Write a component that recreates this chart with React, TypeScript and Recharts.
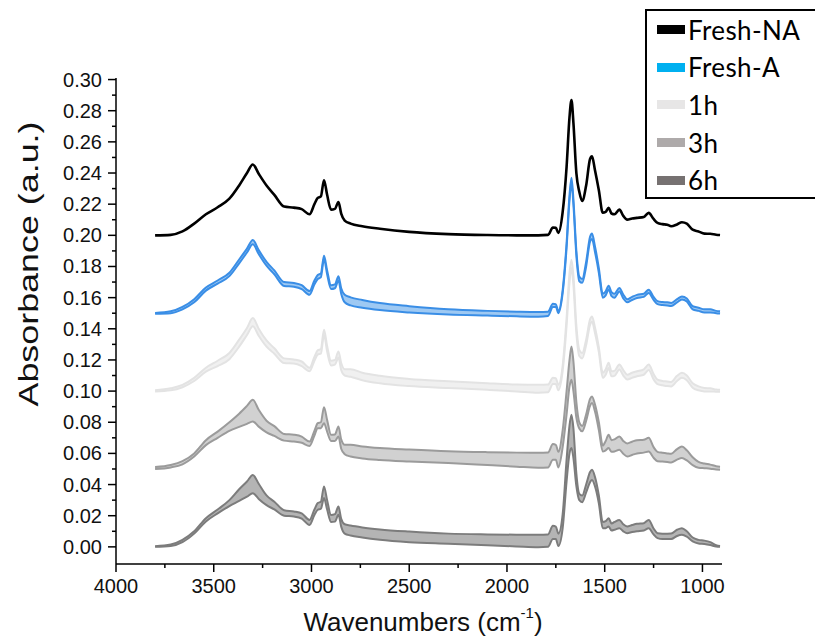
import React from 'react';
import { ComposedChart, Line, Area, XAxis, YAxis } from 'recharts';

// Wavenumber grid (cm-1), high to low
const WAVENUMBERS = [3800, 3720, 3660, 3600, 3540, 3480, 3420, 3370, 3330, 3300, 3270, 3230, 3190, 3140, 3090, 3050, 3010, 2985, 2968, 2952, 2936, 2920, 2900, 2880, 2862, 2848, 2830, 2800, 2740, 2650, 2500, 2300, 2100, 1950, 1840, 1790, 1765, 1750, 1737, 1715, 1695, 1680, 1670, 1660, 1645, 1630, 1615, 1595, 1575, 1565, 1550, 1530, 1510, 1495, 1480, 1465, 1450, 1425, 1405, 1385, 1360, 1335, 1300, 1275, 1250, 1230, 1205, 1180, 1160, 1130, 1105, 1080, 1050, 1020, 990, 960, 930, 910];

// Fresh-NA (single spectrum, offset +0.20)
const FRESH_NA = [0.2000, 0.2003, 0.2025, 0.2075, 0.2135, 0.2180, 0.2235, 0.2320, 0.2400, 0.2455, 0.2395, 0.2320, 0.2260, 0.2185, 0.2178, 0.2168, 0.2135, 0.2200, 0.2240, 0.2250, 0.2354, 0.2260, 0.2165, 0.2170, 0.2214, 0.2140, 0.2095, 0.2075, 0.2058, 0.2042, 0.2022, 0.2008, 0.2002, 0.2000, 0.2000, 0.2003, 0.2050, 0.2048, 0.2015, 0.2150, 0.2440, 0.2760, 0.2868, 0.2720, 0.2400, 0.2280, 0.2220, 0.2320, 0.2490, 0.2507, 0.2420, 0.2290, 0.2145, 0.2150, 0.2176, 0.2140, 0.2135, 0.2165, 0.2125, 0.2101, 0.2108, 0.2112, 0.2118, 0.2144, 0.2105, 0.2080, 0.2072, 0.2068, 0.2058, 0.2070, 0.2084, 0.2075, 0.2036, 0.2025, 0.2011, 0.2010, 0.2004, 0.2002];

// Fresh-A band (offset +0.15)
const FRESH_A_HI = [0.1502, 0.1512, 0.1540, 0.1590, 0.1665, 0.1710, 0.1760, 0.1845, 0.1915, 0.1970, 0.1905, 0.1830, 0.1775, 0.1700, 0.1694, 0.1680, 0.1642, 0.1710, 0.1745, 0.1755, 0.1869, 0.1775, 0.1680, 0.1685, 0.1737, 0.1660, 0.1618, 0.1602, 0.1585, 0.1565, 0.1545, 0.1525, 0.1515, 0.1510, 0.1508, 0.1510, 0.1560, 0.1558, 0.1515, 0.1650, 0.1950, 0.2260, 0.2369, 0.2230, 0.1900, 0.1735, 0.1720, 0.1830, 0.1990, 0.2011, 0.1930, 0.1790, 0.1625, 0.1640, 0.1677, 0.1635, 0.1625, 0.1662, 0.1620, 0.1590, 0.1605, 0.1618, 0.1625, 0.1651, 0.1605, 0.1578, 0.1572, 0.1570, 0.1566, 0.1590, 0.1608, 0.1595, 0.1545, 0.1535, 0.1525, 0.1525, 0.1515, 0.1512];
const FRESH_A_LO = [0.1496, 0.1500, 0.1525, 0.1570, 0.1645, 0.1690, 0.1738, 0.1820, 0.1890, 0.1942, 0.1880, 0.1805, 0.1750, 0.1675, 0.1670, 0.1655, 0.1618, 0.1685, 0.1720, 0.1730, 0.1848, 0.1750, 0.1655, 0.1660, 0.1710, 0.1625, 0.1570, 0.1550, 0.1535, 0.1520, 0.1505, 0.1492, 0.1485, 0.1480, 0.1478, 0.1482, 0.1540, 0.1540, 0.1500, 0.1630, 0.1920, 0.2225, 0.2336, 0.2195, 0.1870, 0.1705, 0.1695, 0.1800, 0.1960, 0.1977, 0.1895, 0.1760, 0.1600, 0.1615, 0.1652, 0.1610, 0.1600, 0.1640, 0.1595, 0.1570, 0.1585, 0.1598, 0.1605, 0.1630, 0.1585, 0.1558, 0.1552, 0.1550, 0.1546, 0.1570, 0.1588, 0.1575, 0.1525, 0.1515, 0.1505, 0.1505, 0.1500, 0.1498];

// 1h band (offset +0.10)
const H1_HI = [0.1005, 0.1018, 0.1040, 0.1085, 0.1150, 0.1195, 0.1245, 0.1330, 0.1405, 0.1469, 0.1400, 0.1325, 0.1275, 0.1210, 0.1203, 0.1190, 0.1150, 0.1220, 0.1262, 0.1270, 0.1394, 0.1290, 0.1195, 0.1200, 0.1255, 0.1180, 0.1140, 0.1140, 0.1118, 0.1098, 0.1078, 0.1063, 0.1050, 0.1042, 0.1040, 0.1042, 0.1085, 0.1082, 0.1040, 0.1165, 0.1470, 0.1760, 0.1844, 0.1740, 0.1420, 0.1265, 0.1245, 0.1330, 0.1460, 0.1479, 0.1410, 0.1280, 0.1117, 0.1140, 0.1182, 0.1127, 0.1130, 0.1170, 0.1135, 0.1105, 0.1118, 0.1127, 0.1140, 0.1170, 0.1110, 0.1073, 0.1065, 0.1062, 0.1058, 0.1098, 0.1117, 0.1100, 0.1050, 0.1030, 0.1020, 0.1018, 0.1010, 0.1008];
const H1_LO = [0.0998, 0.1005, 0.1025, 0.1065, 0.1125, 0.1160, 0.1205, 0.1285, 0.1360, 0.1416, 0.1355, 0.1285, 0.1240, 0.1180, 0.1177, 0.1160, 0.1127, 0.1195, 0.1235, 0.1240, 0.1360, 0.1255, 0.1165, 0.1170, 0.1215, 0.1135, 0.1100, 0.1092, 0.1070, 0.1050, 0.1032, 0.1020, 0.1008, 0.0998, 0.0990, 0.0992, 0.1045, 0.1045, 0.1005, 0.1130, 0.1420, 0.1700, 0.1790, 0.1680, 0.1370, 0.1225, 0.1210, 0.1295, 0.1425, 0.1445, 0.1375, 0.1250, 0.1085, 0.1105, 0.1148, 0.1095, 0.1098, 0.1138, 0.1100, 0.1075, 0.1085, 0.1095, 0.1105, 0.1135, 0.1075, 0.1045, 0.1038, 0.1032, 0.1030, 0.1065, 0.1085, 0.1070, 0.1022, 0.1005, 0.0998, 0.0998, 0.0996, 0.0995];

// 3h band (offset +0.05)
const H3_HI = [0.0512, 0.0525, 0.0550, 0.0600, 0.0685, 0.0740, 0.0800, 0.0855, 0.0905, 0.0944, 0.0880, 0.0810, 0.0775, 0.0725, 0.0720, 0.0708, 0.0676, 0.0745, 0.0794, 0.0800, 0.0897, 0.0815, 0.0720, 0.0722, 0.0773, 0.0690, 0.0655, 0.0655, 0.0645, 0.0635, 0.0625, 0.0614, 0.0608, 0.0605, 0.0604, 0.0606, 0.0660, 0.0655, 0.0610, 0.0750, 0.1000, 0.1200, 0.1287, 0.1190, 0.0930, 0.0800, 0.0776, 0.0850, 0.0950, 0.0966, 0.0915, 0.0800, 0.0650, 0.0680, 0.0720, 0.0685, 0.0690, 0.0709, 0.0680, 0.0664, 0.0675, 0.0685, 0.0688, 0.0700, 0.0640, 0.0610, 0.0604, 0.0600, 0.0598, 0.0628, 0.0644, 0.0620, 0.0575, 0.0545, 0.0535, 0.0528, 0.0518, 0.0515];
const H3_LO = [0.0500, 0.0510, 0.0530, 0.0580, 0.0653, 0.0700, 0.0745, 0.0770, 0.0790, 0.0805, 0.0772, 0.0735, 0.0712, 0.0682, 0.0676, 0.0668, 0.0648, 0.0715, 0.0762, 0.0762, 0.0794, 0.0740, 0.0680, 0.0680, 0.0709, 0.0630, 0.0595, 0.0580, 0.0568, 0.0558, 0.0548, 0.0538, 0.0525, 0.0515, 0.0508, 0.0510, 0.0560, 0.0560, 0.0510, 0.0640, 0.0850, 0.1030, 0.1073, 0.1000, 0.0830, 0.0760, 0.0742, 0.0810, 0.0905, 0.0923, 0.0870, 0.0750, 0.0612, 0.0620, 0.0634, 0.0610, 0.0612, 0.0623, 0.0598, 0.0580, 0.0590, 0.0600, 0.0605, 0.0612, 0.0572, 0.0550, 0.0548, 0.0545, 0.0542, 0.0560, 0.0570, 0.0555, 0.0525, 0.0508, 0.0505, 0.0502, 0.0496, 0.0495];

// 6h band (no offset)
const H6_HI = [0.0004, 0.0015, 0.0045, 0.0100, 0.0184, 0.0240, 0.0300, 0.0370, 0.0420, 0.0462, 0.0405, 0.0330, 0.0290, 0.0235, 0.0227, 0.0215, 0.0173, 0.0240, 0.0281, 0.0290, 0.0388, 0.0300, 0.0205, 0.0210, 0.0259, 0.0180, 0.0145, 0.0137, 0.0125, 0.0112, 0.0098, 0.0085, 0.0080, 0.0078, 0.0077, 0.0080, 0.0135, 0.0130, 0.0085, 0.0210, 0.0560, 0.0780, 0.0848, 0.0760, 0.0470, 0.0340, 0.0329, 0.0400, 0.0480, 0.0495, 0.0450, 0.0330, 0.0160, 0.0165, 0.0184, 0.0150, 0.0160, 0.0173, 0.0145, 0.0131, 0.0140, 0.0148, 0.0152, 0.0173, 0.0118, 0.0088, 0.0085, 0.0085, 0.0086, 0.0110, 0.0120, 0.0100, 0.0060, 0.0045, 0.0040, 0.0030, 0.0010, 0.0005];
const H6_LO = [0.0000, 0.0005, 0.0030, 0.0085, 0.0163, 0.0215, 0.0262, 0.0295, 0.0322, 0.0345, 0.0308, 0.0268, 0.0240, 0.0200, 0.0195, 0.0182, 0.0141, 0.0205, 0.0238, 0.0245, 0.0313, 0.0240, 0.0160, 0.0162, 0.0206, 0.0130, 0.0085, 0.0073, 0.0060, 0.0045, 0.0030, 0.0020, 0.0010, 0.0003, -0.0002, 0.0000, 0.0050, 0.0050, 0.0005, 0.0120, 0.0420, 0.0600, 0.0634, 0.0570, 0.0390, 0.0300, 0.0287, 0.0350, 0.0415, 0.0430, 0.0390, 0.0280, 0.0120, 0.0120, 0.0131, 0.0105, 0.0110, 0.0120, 0.0100, 0.0088, 0.0095, 0.0100, 0.0105, 0.0120, 0.0080, 0.0056, 0.0050, 0.0050, 0.0050, 0.0070, 0.0077, 0.0065, 0.0035, 0.0022, 0.0019, 0.0012, 0.0002, 0.0000];

// Axis ticks
const X_TICKS = [4000, 3750, 3500, 3250, 3000, 2750, 2500, 2250, 2000, 1750, 1500, 1250, 1000];
const Y_TICKS = [0.00, 0.01, 0.02, 0.03, 0.04, 0.05, 0.06, 0.07, 0.08, 0.09, 0.10, 0.11, 0.12, 0.13, 0.14, 0.15, 0.16, 0.17, 0.18, 0.19, 0.20, 0.21, 0.22, 0.23, 0.24, 0.25, 0.26, 0.27, 0.28, 0.29, 0.30];

// Legend entries
const LEGEND = [
  { name: 'Fresh-NA', color: '#000000' },
  { name: 'Fresh-A', color: '#00b0f0' },
  { name: '1h', color: '#e7e6e6' },
  { name: '3h', color: '#aeaaaa' },
  { name: '6h', color: '#767171' },
];

const rows = WAVENUMBERS.map((wn, i) => ({
  wn,
  freshNA: FRESH_NA[i],
  freshA: [FRESH_A_LO[i], FRESH_A_HI[i]],
  h1: [H1_LO[i], H1_HI[i]],
  h3: [H3_LO[i], H3_HI[i]],
  h6: [H6_LO[i], H6_HI[i]],
}));

const W = 815;
const H = 640;
const PLOT_LEFT = 116;
const PLOT_TOP = 78;
const PLOT_RIGHT = 722;
const PLOT_BOTTOM = 564;
const FONT = 'Liberation Sans';

const YTick = (props: any) => {
  const { y, payload } = props;
  const v = payload.value as number;
  const major = Math.round(v * 100) % 2 === 0;
  return (
    <g>
      <line x1={PLOT_LEFT - (major ? 8 : 4)} x2={PLOT_LEFT} y1={y} y2={y} stroke="#000" strokeWidth={1.5} />
      {major && (
        <text x={PLOT_LEFT - 14} y={y} textAnchor="end" dominantBaseline="central" fontFamily={FONT} fontSize={20} fill="#111">
          {v.toFixed(2)}
        </text>
      )}
    </g>
  );
};

const XTick = (props: any) => {
  const { x, payload } = props;
  const v = payload.value as number;
  const major = v % 500 === 0;
  return (
    <g>
      <line x1={x} x2={x} y1={PLOT_BOTTOM} y2={PLOT_BOTTOM + (major ? 8 : 4)} stroke="#000" strokeWidth={1.5} />
      {major && (
        <text x={x} y={PLOT_BOTTOM + 22} textAnchor="middle" dominantBaseline="central" fontFamily={FONT} fontSize={20} fill="#111">
          {v}
        </text>
      )}
    </g>
  );
};

const Legendbox = () => (
  <div
    style={{
      position: 'absolute',
      left: 645,
      top: 9,
      width: 180,
      height: 186,
      border: '2px solid #000',
      background: '#fff',
      boxSizing: 'content-box',
    }}
  >
    {LEGEND.map((item) => (
      <div key={item.name} style={{ height: 37.6, display: 'flex', alignItems: 'center' }}>
        <div style={{ width: 28, height: 9, marginLeft: 10, marginRight: 3, background: item.color }} />
        <span style={{ fontFamily: 'Lato, sans-serif', fontSize: 26, letterSpacing: 0.4, color: '#000', lineHeight: 1 }}>{item.name}</span>
      </div>
    ))}
  </div>
);

export default function App() {
  return (
    <div style={{ position: 'absolute', left: 0, top: 0, width: W, height: H, overflow: 'hidden', background: '#fff' }}>
      <ComposedChart
        width={W}
        height={H}
        data={rows}
        margin={{ top: PLOT_TOP, right: W - PLOT_RIGHT, bottom: H - PLOT_BOTTOM - 50, left: PLOT_LEFT - 60 }}
      >
        <XAxis
          dataKey="wn"
          type="number"
          domain={[900, 4000]}
          reversed
          ticks={X_TICKS}
          tick={<XTick />}
          tickLine={false}
          axisLine={{ stroke: '#000', strokeWidth: 1.5 }}
          height={50}
          interval={0}
          allowDataOverflow
        />
        <YAxis
          type="number"
          domain={[-0.011, 0.301]}
          ticks={Y_TICKS}
          tick={<YTick />}
          tickLine={false}
          axisLine={{ stroke: '#000', strokeWidth: 1.5 }}
          width={60}
          interval={0}
          allowDataOverflow
        />
        <Area type="monotone" dataKey="h6" stroke="#7c7c7c" strokeWidth={2} fill="#b4b4b4" fillOpacity={1} isAnimationActive={false} dot={false} activeDot={false} />
        <Area type="monotone" dataKey="h3" stroke="#9b9b9b" strokeWidth={2} fill="#d1d1d1" fillOpacity={1} isAnimationActive={false} dot={false} activeDot={false} />
        <Area type="monotone" dataKey="h1" stroke="#e3e3e3" strokeWidth={2} fill="#f0f0f0" fillOpacity={1} isAnimationActive={false} dot={false} activeDot={false} />
        <Area type="monotone" dataKey="freshA" stroke="#3a8ee6" strokeWidth={2} fill="#9ec9f3" fillOpacity={1} isAnimationActive={false} dot={false} activeDot={false} />
        <Line type="monotone" dataKey="freshNA" stroke="#000" strokeWidth={2.6} dot={false} activeDot={false} isAnimationActive={false} />
      </ComposedChart>
      <svg width={W} height={H} style={{ position: 'absolute', left: 0, top: 0, pointerEvents: 'none' }}>
        <text
          transform={`translate(29, 264) rotate(-90)`}
          textAnchor="middle"
          dominantBaseline="central"
          fontFamily={FONT}
          fontSize={27}
          textLength={285}
          lengthAdjust="spacingAndGlyphs"
          fill="#111"
        >
          Absorbance (a.u.)
        </text>
        <text x={423} y={622} textAnchor="middle" dominantBaseline="central" fontFamily={FONT} fontSize={26} fill="#111">
          Wavenumbers (cm<tspan fontSize={15} dy={-10}>-1</tspan><tspan dy={10}>)</tspan>
        </text>
      </svg>
      <Legendbox />
    </div>
  );
}
